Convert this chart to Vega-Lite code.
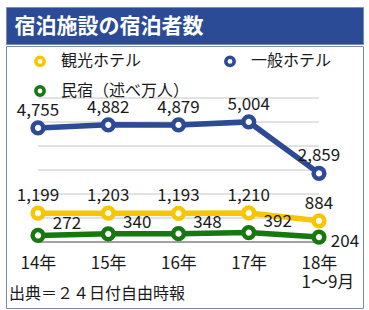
{
  "$schema": "https://vega.github.io/schema/vega-lite/v6.json",
  "padding": {"left": 5, "top": 6, "right": 6, "bottom": 5},
  "background": "white",
  "spacing": 0,
  "config": {
    "view": {"stroke": null},
    "font": "Noto Sans CJK JP",
    "concat": {"spacing": 0}
  },
  "datasets": {
    "series": [
      {"year": "14年", "series": "観光ホテル", "value": 1199},
      {"year": "15年", "series": "観光ホテル", "value": 1203},
      {"year": "16年", "series": "観光ホテル", "value": 1193},
      {"year": "17年", "series": "観光ホテル", "value": 1210},
      {"year": "18年", "series": "観光ホテル", "value": 884},
      {"year": "14年", "series": "一般ホテル", "value": 4755},
      {"year": "15年", "series": "一般ホテル", "value": 4882},
      {"year": "16年", "series": "一般ホテル", "value": 4879},
      {"year": "17年", "series": "一般ホテル", "value": 5004},
      {"year": "18年", "series": "一般ホテル", "value": 2859},
      {"year": "14年", "series": "民宿（述べ万人）", "value": 272},
      {"year": "15年", "series": "民宿（述べ万人）", "value": 340},
      {"year": "16年", "series": "民宿（述べ万人）", "value": 348},
      {"year": "17年", "series": "民宿（述べ万人）", "value": 392},
      {"year": "18年", "series": "民宿（述べ万人）", "value": 204}
    ],
    "grid": [
      {"g": 1000}, {"g": 2000}, {"g": 3000}, {"g": 4000}, {"g": 5000}, {"g": 6000}
    ]
  },
  "vconcat": [
    {
      "width": 357,
      "height": 37,
      "view": {"fill": "#2c4b96", "stroke": "#7d8cae"},
      "data": {"values": [{"t": "宿泊施設の宿泊者数"}]},
      "mark": {"type": "text", "align": "left", "baseline": "middle", "dx": -170, "dy": 1, "color": "white", "fontSize": 21, "fontWeight": "bold", "font": "Noto Sans CJK JP"},
      "encoding": {"text": {"field": "t"}}
    },
    {
      "width": 357,
      "height": 262,
      "view": {"stroke": "#7d8cae"},
      "title": {"text": "出典＝２４日付自由時報", "orient": "bottom", "anchor": "start", "frame": "group", "offset": -22, "dx": 3, "fontSize": 16, "fontWeight": "normal", "color": "#1a1a1a", "font": "Noto Sans CJK JP"},
      "layer": [
        {
          "data": {"name": "grid"},
          "mark": {"type": "rule", "color": "#c6c6c6", "strokeWidth": 1},
          "encoding": {
            "y": {"field": "g", "type": "quantitative", "scale": {"domain": [-2750, 8167], "nice": false, "zero": false}, "axis": null},
            "x": {"datum": "14年", "type": "ordinal"},
            "x2": {"datum": "18年"}
          }
        },
        {
          "data": {"values": [{"g": 0}]},
          "mark": {"type": "rule", "color": "#444444", "strokeWidth": 1.2},
          "encoding": {
            "y": {"field": "g", "type": "quantitative"},
            "x": {"datum": "14年", "type": "ordinal"},
            "x2": {"datum": "18年"}
          }
        },
        {
          "data": {"name": "series"},
          "mark": {"type": "line", "strokeWidth": 5.5},
          "encoding": {
            "x": {
              "field": "year", "type": "ordinal",
              "scale": {"type": "point", "domain": ["14年", "15年", "16年", "17年", "18年"], "padding": 0.541, "align": 0.421},
              "axis": {
                "title": null, "orient": "bottom", "offset": -66, "domain": false, "ticks": false, "grid": false,
                "labelAngle": 0, "labelAlign": "left", "labelOffset": -18, "labelPadding": 13, "labelBaseline": "top",
                "labelFontSize": 17, "labelColor": "#1a1a1a", "labelFont": "Noto Sans CJK JP", "labelLineHeight": 19,
                "labelExpr": "datum.value == '18年' ? ['18年', '1〜9月'] : datum.value"
              }
            },
            "y": {"field": "value", "type": "quantitative"},
            "color": {
              "field": "series", "type": "nominal",
              "scale": {"domain": ["観光ホテル", "一般ホテル", "民宿（述べ万人）"], "range": ["#f7c600", "#2d4a94", "#17780f"]},
              "legend": {
                "title": null, "orient": "none", "legendX": 26, "legendY": 46, "direction": "horizontal", "columns": 2,
                "columnPadding": 28, "rowPadding": 6, "padding": 0,
                "symbolType": "circle", "symbolSize": 70, "symbolStrokeWidth": 3.5, "symbolFillColor": "white", "symbolOpacity": 1,
                "labelFontSize": 16, "labelColor": "#1a1a1a", "labelOffset": 13, "labelFont": "Noto Sans CJK JP"
              }
            }
          }
        },
        {
          "data": {"name": "series"},
          "mark": {"type": "point", "filled": false, "fill": "white", "strokeWidth": 4.5, "size": 115, "opacity": 1},
          "encoding": {
            "x": {"field": "year", "type": "ordinal"},
            "y": {"field": "value", "type": "quantitative"},
            "color": {"field": "series", "type": "nominal"}
          }
        },
        {
          "data": {"name": "series"},
          "transform": [{"filter": "datum.series != '民宿（述べ万人）'"}],
          "mark": {"type": "text", "dy": -17, "fontSize": 17, "color": "#1a1a1a", "baseline": "middle", "font": "Noto Sans CJK JP"},
          "encoding": {
            "x": {"field": "year", "type": "ordinal"},
            "y": {"field": "value", "type": "quantitative"},
            "text": {"field": "value", "type": "quantitative", "format": ","}
          }
        },
        {
          "data": {"name": "series"},
          "transform": [{"filter": "datum.series == '民宿（述べ万人）' && datum.year != '18年'"}],
          "mark": {"type": "text", "dx": 29, "dy": -11, "fontSize": 17, "color": "#1a1a1a", "baseline": "middle", "font": "Noto Sans CJK JP"},
          "encoding": {
            "x": {"field": "year", "type": "ordinal"},
            "y": {"field": "value", "type": "quantitative"},
            "text": {"field": "value", "type": "quantitative", "format": ","}
          }
        },
        {
          "data": {"name": "series"},
          "transform": [{"filter": "datum.series == '民宿（述べ万人）' && datum.year == '18年'"}],
          "mark": {"type": "text", "dx": 26, "dy": 5, "fontSize": 17, "color": "#1a1a1a", "baseline": "middle", "font": "Noto Sans CJK JP"},
          "encoding": {
            "x": {"field": "year", "type": "ordinal"},
            "y": {"field": "value", "type": "quantitative"},
            "text": {"field": "value", "type": "quantitative", "format": ","}
          }
        }
      ]
    }
  ]
}
